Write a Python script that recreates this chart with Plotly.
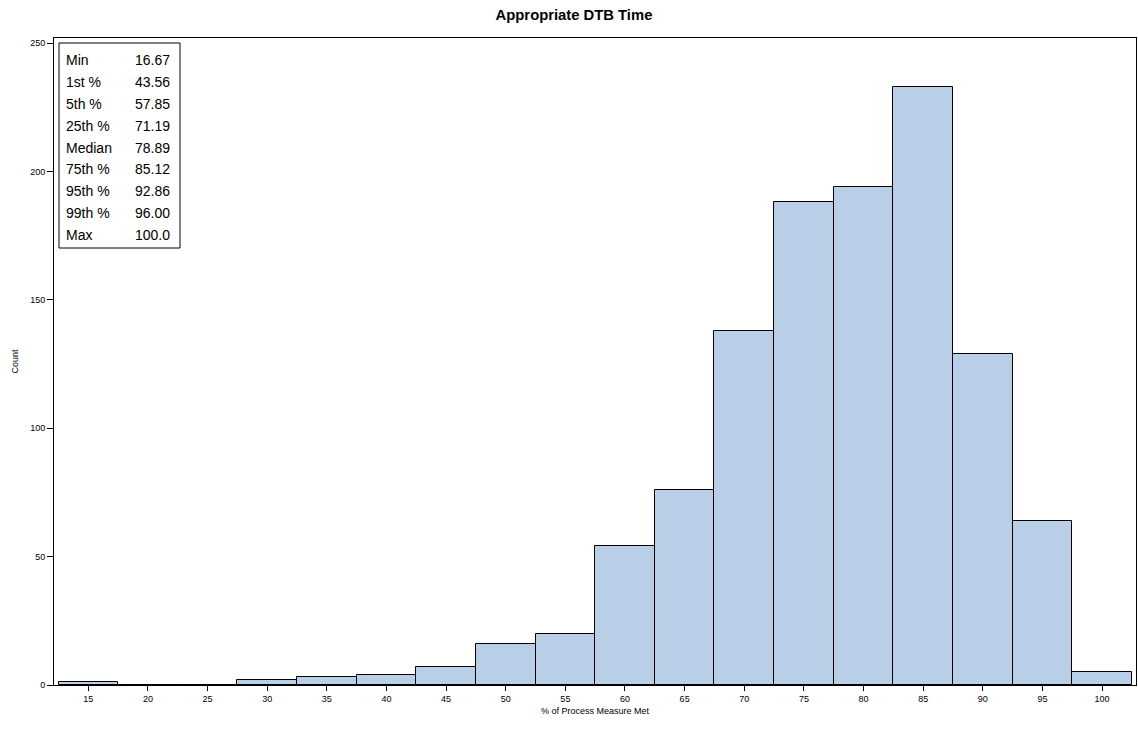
import plotly.graph_objects as go

# Histogram bins (bin centres, width 5) and counts
bin_centers = [15, 20, 25, 30, 35, 40, 45, 50, 55, 60, 65, 70, 75, 80, 85, 90, 95, 100]
counts = [1, 0, 0, 2, 3, 4, 7, 16, 20, 54, 76, 138, 188, 194, 233, 129, 64, 5]
bin_width = 5

stat_labels = ["Min", "1st %", "5th %", "25th %", "Median", "75th %", "95th %", "99th %", "Max"]
stat_values = ["16.67", "43.56", "57.85", "71.19", "78.89", "85.12", "92.86", "96.00", "100.0"]

x_ticks = [15, 20, 25, 30, 35, 40, 45, 50, 55, 60, 65, 70, 75, 80, 85, 90, 95, 100]
y_ticks = [0, 50, 100, 150, 200, 250]

FONT = "Liberation Sans, Arial, sans-serif"

fig = go.Figure()
fig.add_trace(go.Bar(
    x=bin_centers, y=counts, width=bin_width,
    marker=dict(color="#B9CFE7", line=dict(color="#000000", width=1)),
    hoverinfo="x+y",
))

W, H = 1138, 730
ml, mr, mt, mb = 54, 2, 38, 45
pw, ph = W - ml - mr, H - mt - mb

def px_x(px):
    return (px - ml) / pw

def px_y(py):
    return (H - mb - py) / ph

# stats box
fig.add_shape(type="rect", xref="paper", yref="paper",
              x0=px_x(59), x1=px_x(180), y0=px_y(248), y1=px_y(43),
              line=dict(color="#000000", width=1), fillcolor="white", layer="above")
row_y0, row_dy = 60, 21.9
for i, (lab, val) in enumerate(zip(stat_labels, stat_values)):
    yy = px_y(row_y0 + i * row_dy)
    fig.add_annotation(x=px_x(64), y=yy, xref="paper", yref="paper", text=lab,
                       showarrow=False, xanchor="left", yanchor="middle",
                       font=dict(family=FONT, size=14, color="#000"))
    fig.add_annotation(x=px_x(172), y=yy, xref="paper", yref="paper", text=val,
                       showarrow=False, xanchor="right", yanchor="middle",
                       font=dict(family=FONT, size=14, color="#000"))

fig.update_layout(
    width=W, height=H,
    margin=dict(l=ml, r=mr, t=mt, b=mb),
    plot_bgcolor="white", paper_bgcolor="white",
    showlegend=False, bargap=0,
    title=dict(text="<b>Appropriate DTB Time</b>", x=574 / W, xanchor="center",
               y=1 - 14.5 / H, yanchor="middle",
               font=dict(family=FONT, size=14.8, color="#000")),
    font=dict(family=FONT, color="#000"),
)
fig.update_xaxes(
    range=[12.12, 102.85], tickvals=x_ticks, ticks="outside", ticklen=5,
    tickcolor="#000", tickfont=dict(size=9, family=FONT, color="#000"),
    showline=True, linecolor="#000", linewidth=1, mirror=True,
    showgrid=False, zeroline=False, automargin=False,
    title=dict(text="% of Process Measure Met", standoff=4,
               font=dict(size=9, family=FONT, color="#000")),
)
fig.update_yaxes(
    range=[0, 252], tickvals=y_ticks, ticks="outside", ticklen=6,
    tickcolor="#000", tickfont=dict(size=9, family=FONT, color="#000"),
    showline=True, linecolor="#000", linewidth=1, mirror=True,
    showgrid=False, zeroline=False, automargin=False,
    title=dict(text="Count", standoff=10,
               font=dict(size=9, family=FONT, color="#000")),
)

# remove the page's default 8px body margin so the figure sits at the window's corner
fig.write_html("out.html", config={"displayModeBar": False},
               post_script="document.body.style.margin='0px';")
